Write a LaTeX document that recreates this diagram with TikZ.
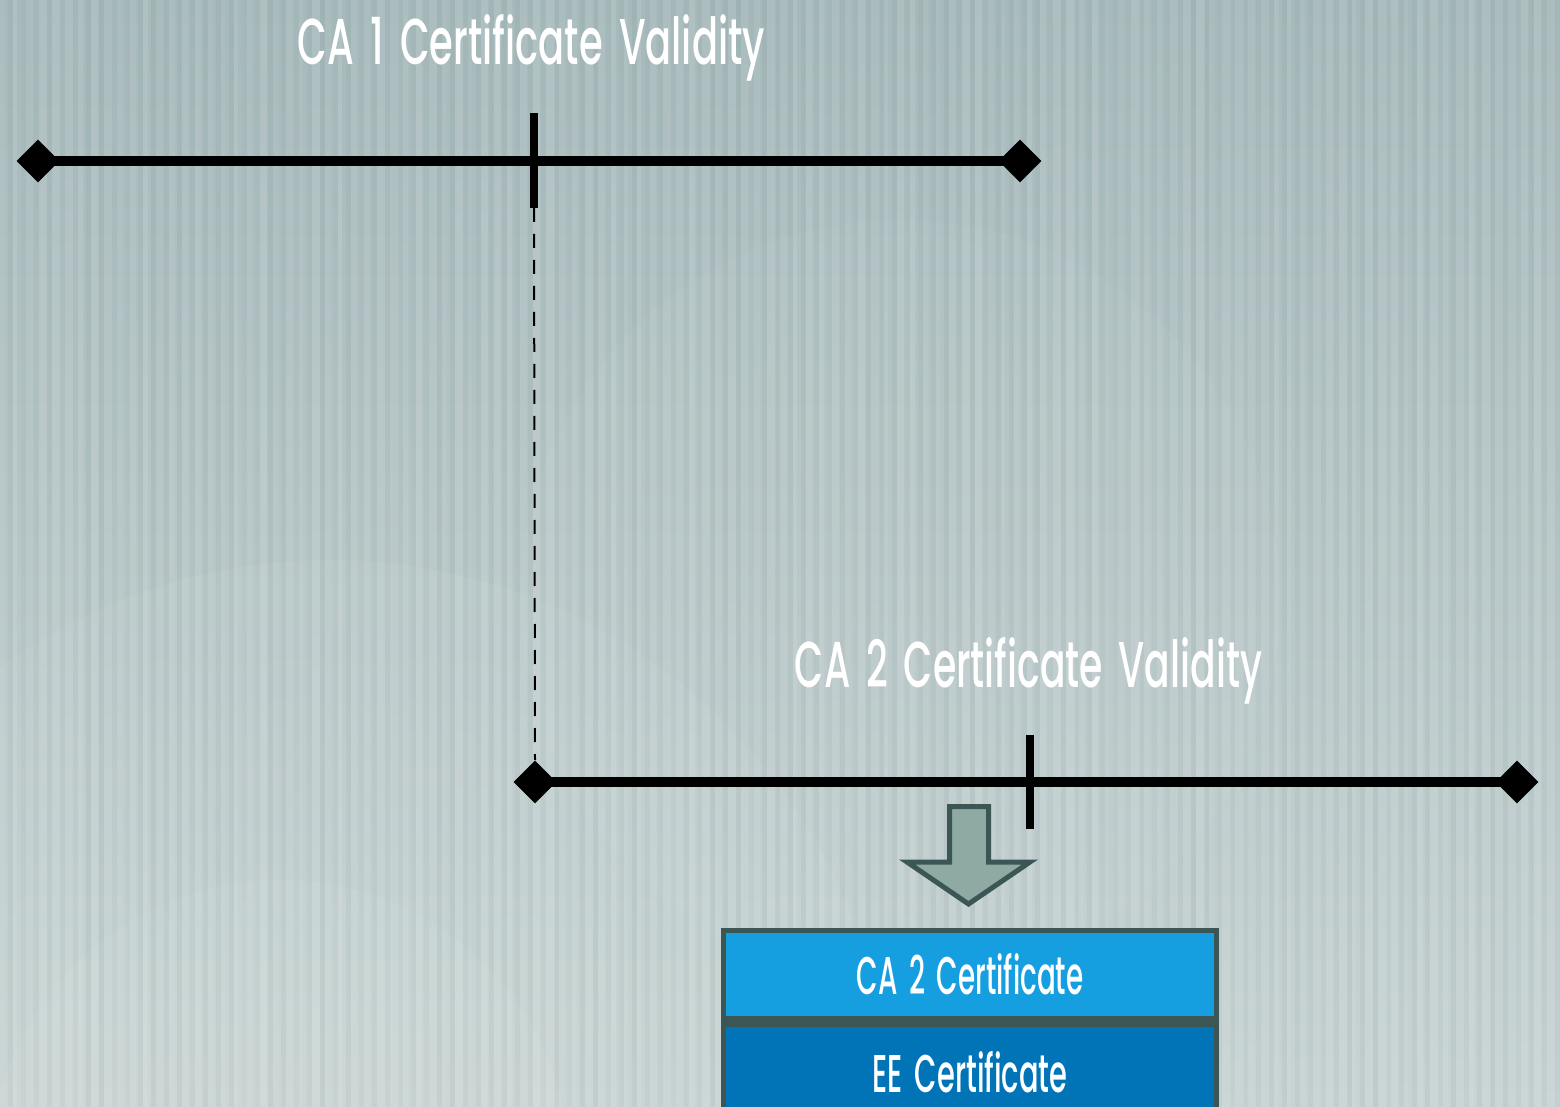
\documentclass[tikz,border=0pt]{standalone}
\usepackage{fontspec}
\setmainfont{Poppins}
\newfontfamily\headfont{Poppins Medium}
\usetikzlibrary{shapes.geometric}

\definecolor{bgtop}{HTML}{A6B9BB}
\definecolor{bgmid}{HTML}{B5C5C6}
\definecolor{bgbot}{HTML}{C8D3D3}
\definecolor{glow}{HTML}{DCE5E3}
\definecolor{arrowfill}{HTML}{8FA9A3}
\definecolor{slate}{HTML}{3C5656}
\definecolor{certlight}{HTML}{169FE0}
\definecolor{certdark}{HTML}{0074B7}

\newcommand\wsp{\hspace{0.42em}}

\tikzset{
  endmark/.style={diamond, fill=black, inner sep=0pt, minimum width=21.5pt, minimum height=21.5pt},
  timeline/.style={line width=5.2pt, black},
  tickmark/.style={line width=4pt, black, line cap=butt},
  guide/.style={line width=1pt, black, dash pattern=on 7pt off 6pt},
  heading/.style={text=white, inner sep=0pt, anchor=base, font=\headfont},
  certbox/.style={draw=slate, line width=2.6pt, inner sep=0pt, text=white,
                  font=\headfont, minimum width=246.5pt},
  blockarrow/.style={draw=slate, fill=arrowfill, line width=2.5pt, line join=miter}
}

\begin{document}
\begin{tikzpicture}[x=0.5pt, y=-0.5pt]
  \useasboundingbox (0,0) rectangle (1560,1107);
  \clip (0,0) rectangle (1560,1107);

  % backdrop: soft gradient, pale discs and vertical grain
  \shade[top color=bgtop, middle color=bgmid, bottom color=bgbot] (0,0) rectangle (1560,1107);
  \fill[glow, opacity=0.10] (330,1120) circle (560);
  \fill[glow, opacity=0.12] (280,1170) circle (290);
  \fill[glow, opacity=0.06] (900,600) circle (380);
  \pgfmathsetseed{42}
  \foreach \i in {0,...,120} {
    \pgfmathsetmacro\w{4+5*rnd}
    \pgfmathsetmacro\o{0.04+0.07*rnd}
    \fill[white, opacity=\o] ({\i*13},0) rectangle ++(\w,1107);
  }
  \foreach \i in {0,...,120} {
    \pgfmathsetmacro\o{0.02+0.04*rnd}
    \fill[slate, opacity=\o] ({\i*13+8},0) rectangle ++(5,1107);
  }

  % CA 1 validity period
  \node[heading] (title1) at (531.5,65)
    {\resizebox{233.5pt}{25pt}{CA\wsp1\wsp Certificate\wsp Validity}};
  \node[endmark] (a1) at (38,161) {};
  \node[endmark] (b1) at (1020,161) {};
  \draw[timeline] (a1.center) -- (b1.center);
  \coordinate (t1top) at (534,113);
  \coordinate (t1bot) at (534,208);
  \draw[tickmark] (t1top) -- (t1bot);

  % CA 2 validity period
  \node[heading] (title2) at (1028.5,687)
    {\resizebox{233.5pt}{25pt}{CA\wsp2\wsp Certificate\wsp Validity}};
  \node[endmark] (a2) at (535,782) {};
  \node[endmark] (b2) at (1517,782) {};
  \draw[timeline] (a2.center) -- (b2.center);
  \coordinate (t2top) at (1030,735);
  \coordinate (t2bot) at (1030,829);
  \draw[tickmark] (t2top) -- (t2bot);

  % start of CA 2 aligned with the issuing moment in CA 1
  \draw[guide] (t1bot) -- (a2.north);

  % certificate chain
  \node[certbox, fill=certlight, minimum height=44pt] (ca2) at (970,974.5)
    {\resizebox{113.5pt}{20.5pt}{CA\wsp2\wsp Certificate}};
  \node[certbox, fill=certdark, minimum height=48.5pt] (ee) at (970,1072.5)
    {\resizebox{97.5pt}{20.5pt}{EE\wsp Certificate}};

  % block arrow towards the chain
  \draw[blockarrow] (949.5,806.5) -- (988.5,806.5) -- (988.5,862) -- (1030,862)
    -- (968.5,904) -- (907,862) -- (949.5,862) -- cycle;
\end{tikzpicture}
\end{document}
